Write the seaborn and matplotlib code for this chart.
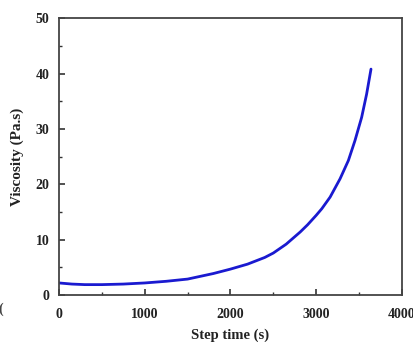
import matplotlib
matplotlib.use("Agg")
import matplotlib.pyplot as plt
import seaborn as sns
from matplotlib.ticker import MultipleLocator

# values
step_time = [0, 150, 300, 500, 750, 1000, 1250, 1500, 1650, 1800, 2000, 2200, 2400,
             2500, 2650, 2814, 2900, 3000, 3066, 3163, 3279, 3376, 3453, 3531, 3589, 3640]
viscosity = [2.2, 2.0, 1.9, 1.9, 2.0, 2.2, 2.5, 2.9, 3.4, 3.9, 4.7, 5.6, 6.8,
             7.6, 9.2, 11.4, 12.7, 14.4, 15.6, 17.7, 21.0, 24.3, 27.9, 32.1, 36.3, 40.8]

sns.set_style("ticks")
plt.rcParams['font.family'] = ['Liberation Serif', 'DejaVu Serif']
plt.rcParams['font.weight'] = 'bold'

fig = plt.figure(figsize=(4.13, 3.42), dpi=100)
ax = fig.add_axes([0.143, 0.137, 0.83, 0.81])

sns.lineplot(x=step_time, y=viscosity, ax=ax, color='#1a1ad0', linewidth=2.0)

ax.set_xlim(0, 4000)
ax.set_ylim(0, 50)
ax.xaxis.set_major_locator(MultipleLocator(1000))
ax.xaxis.set_minor_locator(MultipleLocator(500))
ax.yaxis.set_major_locator(MultipleLocator(10))
ax.yaxis.set_minor_locator(MultipleLocator(5))
ax.tick_params(which='both', direction='in', colors='#333333', labelcolor='#222222',
               labelsize=10, top=False, right=False)
ax.tick_params(axis='x', which='major', pad=9)
ax.tick_params(axis='y', which='major', pad=7)
ax.tick_params(which='major', length=4, width=1.2)
ax.tick_params(which='minor', length=2.5, width=1.0)
for lab in ax.get_xticklabels() + ax.get_yticklabels():
    lab.set_fontweight('bold')
for s in ax.spines.values():
    s.set_color('#444444')
    s.set_linewidth(1.3)

ax.set_xlabel('Step time (s)', fontsize=10.5, fontweight='bold', color='#222222', labelpad=6)
ax.set_ylabel('Viscosity (Pa.s)', fontsize=11, fontweight='bold', color='#222222', labelpad=8)

# stray clipped character at the left edge of the source image
fig.text(-0.004, 0.085, '(', fontsize=10, color='#444444')

fig.savefig('out.png', dpi=100, facecolor='white')
